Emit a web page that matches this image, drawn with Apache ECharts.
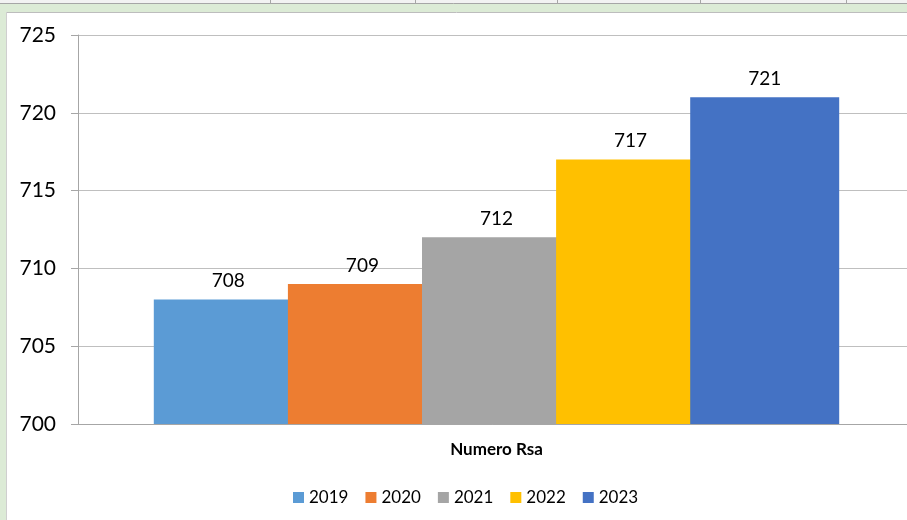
<!DOCTYPE html>
<html>
<head>
<meta charset="utf-8">
<title>Numero Rsa</title>
<script src="https://cdn.jsdelivr.net/npm/echarts@6/dist/echarts.min.js"></script>
<style>
  html, body { margin: 0; padding: 0; background: #ffffff; }
  #chart { width: 907px; height: 520px; }
</style>
</head>
<body>
<div id="chart"></div>
<script>
// Data
const categories = ['Numero Rsa'];
const years = ['2019', '2020', '2021', '2022', '2023'];
const values = [708, 709, 712, 717, 721];
const colors = ['#5B9BD5', '#ED7D31', '#A5A5A5', '#FFC000', '#4472C4'];

const FONT = 'Lato, "Open Sans", sans-serif';

const chart = echarts.init(document.getElementById('chart'), null, { renderer: 'canvas' });

// Spreadsheet frame around the chart area
const sheetSeparators = [270, 415, 557, 700, 846];
const frame = [
  { type: 'rect', shape: { x: 0, y: 0, width: 907, height: 3 }, style: { fill: '#f2f2f2' }, silent: true },
  { type: 'rect', shape: { x: 0, y: 3, width: 907, height: 9 }, style: { fill: '#dcebd6' }, silent: true },
  { type: 'rect', shape: { x: 0, y: 12, width: 6, height: 508 }, style: { fill: '#dcebd6' }, silent: true },
  { type: 'line', shape: { x1: 0, y1: 3.5, x2: 907, y2: 3.5 }, style: { stroke: '#a6a6a6', lineWidth: 1 }, silent: true },
  { type: 'line', shape: { x1: 6, y1: 12.5, x2: 907, y2: 12.5 }, style: { stroke: '#bdbdbd', lineWidth: 1 }, silent: true },
  { type: 'line', shape: { x1: 6.5, y1: 12, x2: 6.5, y2: 520 }, style: { stroke: '#cfcfcf', lineWidth: 1 }, silent: true }
];
sheetSeparators.forEach(x => {
  frame.push({ type: 'line', shape: { x1: x + 0.5, y1: 0, x2: x + 0.5, y2: 3 }, style: { stroke: '#a6a6a6', lineWidth: 1 }, silent: true });
});

const series = years.map((y, i) => ({
  name: y,
  type: 'bar',
  data: [values[i]],
  barWidth: 149,
  barGap: '-10%',
  itemStyle: { color: colors[i] },
  label: {
    show: true,
    position: 'top',
    distance: 9,
    color: '#000000',
    fontFamily: FONT,
    fontSize: 19
  }
}));

chart.setOption({
  animation: false,
  backgroundColor: '#ffffff',
  graphic: frame,
  // plot area runs past the right edge of the canvas
  grid: { left: 78, width: 837, top: 35, bottom: 96, containLabel: false, outerBoundsMode: 'none' },
  legend: {
    data: years,
    left: 288,
    top: 484,
    icon: 'rect',
    itemWidth: 11,
    itemHeight: 11,
    itemGap: 17,
    textStyle: { fontFamily: FONT, fontSize: 17, color: '#000000' }
  },
  xAxis: {
    type: 'category',
    data: categories,
    axisLine: { show: true, lineStyle: { color: '#a6a6a6', width: 1 } },
    axisTick: { show: false },
    axisLabel: {
      margin: 17,
      fontFamily: FONT,
      fontSize: 17,
      fontWeight: 'bold',
      color: '#000000'
    }
  },
  yAxis: {
    type: 'value',
    min: 700,
    max: 725,
    interval: 5,
    axisLine: { show: true, lineStyle: { color: '#a6a6a6', width: 1 } },
    axisTick: { show: true, length: 7, inside: false, lineStyle: { color: '#a6a6a6' } },
    splitLine: { show: true, lineStyle: { color: '#bfbfbf', width: 1 } },
    axisLabel: {
      margin: 22,
      fontFamily: FONT,
      fontSize: 21,
      color: '#000000'
    }
  },
  series: series
});
</script>
</body>
</html>
